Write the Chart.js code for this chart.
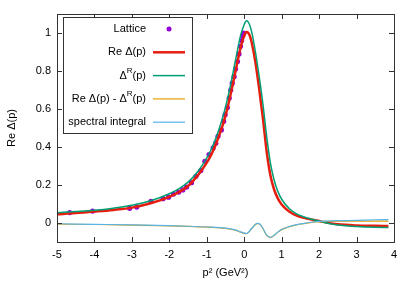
<!DOCTYPE html>
<html lang="en">
<head>
  <meta charset="UTF-8">
  <title>Re Delta(p)</title>
  <script src="https://cdn.jsdelivr.net/npm/chart.js@4.4.1/dist/chart.umd.min.js"></script>
  <style>
    html, body { margin: 0; padding: 0; background: #fff; }
    #wrap { width: 415px; height: 291px; }
  </style>
</head>
<body>
<div id="wrap"><canvas id="grafico" width="415" height="291"></canvas></div>

<script>
  // lattice data
  const latticeX = [-4.66, -4.05, -3.06, -2.87, -2.49, -2.17, -2.02, -1.89, -1.75, -1.64, -1.54, -1.41,
                    -1.29, -1.16, -1.05, -0.94, -0.83, -0.76, -0.70, -0.61, -0.55, -0.51, -0.45, -0.40,
                    -0.36, -0.32, -0.27, -0.23, -0.18, -0.14, -0.10, -0.07, -0.04, -0.02];
  const latticeY = [0.055, 0.063, 0.077, 0.084, 0.114, 0.128, 0.136, 0.152, 0.163, 0.174, 0.189, 0.212,
                    0.246, 0.276, 0.325, 0.360, 0.395, 0.420, 0.456, 0.490, 0.535, 0.570, 0.608, 0.658,
                    0.700, 0.736, 0.770, 0.810, 0.850, 0.890, 0.930, 0.960, 0.985, 1.000];

  // Re Delta(p) and Delta^R(p)
  const curveX  = [-5, -4.5, -4, -3.5, -3, -2.5, -2, -1.75, -1.5, -1.25, -1, -0.9, -0.8, -0.7, -0.6, -0.5,
                   -0.4, -0.3, -0.2, -0.1, 0, 0.06, 0.1, 0.15, 0.2, 0.3, 0.4, 0.5, 0.6, 0.7, 0.8, 0.9, 1.0,
                   1.2, 1.4, 1.6, 1.8, 2.0, 2.2, 2.5, 3.0, 3.5, 3.85];
  const reDelta = [0.046, 0.052, 0.060, 0.069, 0.081, 0.104, 0.138, 0.162, 0.195, 0.248, 0.318, 0.352, 0.395,
                   0.445, 0.500, 0.565, 0.645, 0.735, 0.830, 0.920, 0.985, 1.005, 1.003, 0.985, 0.950, 0.845,
                   0.705, 0.550, 0.375, 0.250, 0.175, 0.128, 0.097, 0.060, 0.039, 0.027, 0.018, 0.010, 0.002,
                   -0.007, -0.013, -0.015, -0.016];
  const deltaR  = [0.054, 0.060, 0.067, 0.078, 0.093, 0.117, 0.154, 0.180, 0.215, 0.268, 0.343, 0.380, 0.425,
                   0.478, 0.540, 0.610, 0.695, 0.790, 0.890, 0.985, 1.045, 1.064, 1.060, 1.040, 1.005, 0.900,
                   0.770, 0.625, 0.455, 0.315, 0.225, 0.165, 0.125, 0.076, 0.048, 0.032, 0.020, 0.010, 0.000,
                   -0.011, -0.019, -0.023, -0.024];

  // Re Delta(p) - Delta^R(p) and spectral integral
  const diffX     = [-5, -4, -3, -2, -1.5, -1, -0.5, -0.3, -0.2, -0.1, 0, 0.05, 0.1, 0.2, 0.3, 0.35, 0.4, 0.5,
                     0.6, 0.7, 0.8, 0.9, 1.0, 1.2, 1.4, 1.6, 1.8, 2.0, 2.5, 3.0, 3.5, 3.85];
  const diffY     = [-0.006, -0.008, -0.011, -0.015, -0.018, -0.022, -0.028, -0.035, -0.040, -0.048, -0.054,
                     -0.056, -0.052, -0.030, -0.008, -0.003, -0.004, -0.030, -0.065, -0.077, -0.065, -0.048,
                     -0.035, -0.020, -0.010, -0.003, 0.003, 0.007, 0.010, 0.010, 0.010, 0.010];
  const spectralY = [-0.004, -0.007, -0.010, -0.014, -0.017, -0.021, -0.027, -0.034, -0.039, -0.047, -0.053,
                     -0.055, -0.051, -0.029, -0.007, -0.002, -0.003, -0.029, -0.064, -0.076, -0.064, -0.047,
                     -0.034, -0.019, -0.009, -0.002, 0.004, 0.009, 0.012, 0.014, 0.017, 0.018];

  const xTicks = [-5, -4, -3, -2, -1, 0, 1, 2, 3, 4];
  const yTicks = [0, 0.2, 0.4, 0.6, 0.8, 1];

  const pares = (xs, ys) => xs.map((x, i) => ({ x: x, y: ys[i] }));

  const corBorda = "#333";

  // legenda no estilo gnuplot (texto a direita, amostra depois)
  const linhasLegenda = [
    { partes: [["Lattice"]], tipo: "ponto", cor: "#9400d3" },
    { partes: [["Re \u0394(p)"]], tipo: "linha", cor: "#e51e10", largura: 2.5 },
    { partes: [["\u0394"], ["R", true], ["(p)"]], tipo: "linha", cor: "#009e73", largura: 1.5 },
    { partes: [["Re \u0394(p) - \u0394"], ["R", true], ["(p)"]], tipo: "linha", cor: "#e69f00", largura: 1.2 },
    { partes: [["spectral integral"]], tipo: "linha", cor: "#56b4e9", largura: 1.2 }
  ];

  const molduraPlugin = {
    id: "moldura",
    afterDraw(chart) {
      const { ctx, chartArea: a, scales } = chart;
      ctx.save();
      ctx.strokeStyle = corBorda;
      ctx.lineWidth = 1;
      ctx.beginPath();
      xTicks.forEach(v => {
        const px = Math.round(scales.x.getPixelForValue(v)) + 0.5;
        ctx.moveTo(px, a.bottom); ctx.lineTo(px, a.bottom - 5);
        ctx.moveTo(px, a.top); ctx.lineTo(px, a.top + 5);
      });
      yTicks.forEach(v => {
        const py = Math.round(scales.y.getPixelForValue(v)) + 0.5;
        ctx.moveTo(a.left, py); ctx.lineTo(a.left + 5, py);
        ctx.moveTo(a.right, py); ctx.lineTo(a.right - 5, py);
      });
      ctx.stroke();
      ctx.strokeRect(Math.round(a.left) + 0.5, Math.round(a.top) + 0.5,
                     Math.round(a.right - a.left), Math.round(a.bottom - a.top));

      // caixa da legenda
      ctx.fillStyle = "#fff";
      ctx.fillRect(63.5, 17.5, 129, 116);
      ctx.strokeStyle = corBorda;
      ctx.strokeRect(63.5, 17.5, 129, 116);

      const fonte = "11px 'Liberation Sans', Arial, sans-serif";
      const fonteSup = "8px 'Liberation Sans', Arial, sans-serif";
      ctx.textBaseline = "middle";
      ctx.textAlign = "left";
      linhasLegenda.forEach((l, i) => {
        const y = 29 + i * 23.3;
        let total = 0;
        l.partes.forEach(p => { ctx.font = p[1] ? fonteSup : fonte; total += ctx.measureText(p[0]).width; });
        let x = 146 - total;
        ctx.fillStyle = "#000";
        l.partes.forEach(p => {
          ctx.font = p[1] ? fonteSup : fonte;
          ctx.fillText(p[0], x, p[1] ? y - 5 : y);
          x += ctx.measureText(p[0]).width;
        });
        if (l.tipo === "ponto") {
          ctx.fillStyle = l.cor;
          ctx.beginPath();
          ctx.arc(169, y, 2.5, 0, Math.PI * 2);
          ctx.fill();
        } else {
          ctx.strokeStyle = l.cor;
          ctx.lineWidth = l.largura;
          ctx.beginPath();
          ctx.moveTo(153, y); ctx.lineTo(185, y);
          ctx.stroke();
        }
      });
      ctx.restore();
    }
  };

  Chart.defaults.font.family = "'Liberation Sans', Arial, sans-serif";
  Chart.defaults.font.size = 11;
  Chart.defaults.color = "#000";

  const linha = (label, dados, cor, largura, ordem) => ({
    label: label,
    data: dados,
    showLine: true,
    borderColor: cor,
    borderWidth: largura,
    pointRadius: 0,
    cubicInterpolationMode: "monotone",
    order: ordem
  });

  new Chart(document.getElementById("grafico").getContext("2d"), {
    type: "scatter",
    data: {
      datasets: [
        { label: "Lattice", data: pares(latticeX, latticeY), backgroundColor: "#9400d3",
          borderWidth: 0, pointRadius: 2.6, order: 5 },
        linha("Re \u0394(p)", pares(curveX, reDelta), "#e51e10", 2.5, 4),
        linha("\u0394R(p)", pares(curveX, deltaR), "#009e73", 1.5, 3),
        linha("Re \u0394(p) - \u0394R(p)", pares(diffX, diffY), "#e69f00", 1.2, 2),
        linha("spectral integral", pares(diffX, spectralY), "#56b4e9", 1.2, 1)
      ]
    },
    options: {
      responsive: false,
      animation: false,
      layout: { padding: { top: 14, right: 21, left: 0, bottom: 0 } },
      plugins: { legend: { display: false }, tooltip: { enabled: false } },
      scales: {
        x: {
          type: "linear", min: -5, max: 4,
          grid: { display: false, drawTicks: false }, border: { display: false },
          afterBuildTicks: s => { s.ticks = xTicks.map(v => ({ value: v })); },
          afterFit: s => { s.height = 49; },
          ticks: { padding: 6, callback: v => String(v) },
          title: { display: true, text: "p\u00b2 (GeV\u00b2)", padding: { top: 4, bottom: 11 } }
        },
        y: {
          type: "linear", min: -0.1, max: 1.1,
          grid: { display: false, drawTicks: false }, border: { display: false },
          afterBuildTicks: s => { s.ticks = yTicks.map(v => ({ value: v })); },
          afterFit: s => { s.width = 57; },
          ticks: { padding: 6, callback: v => String(+v.toFixed(1)) },
          title: { display: true, text: "Re \u0394(p)", padding: { top: 5, bottom: 6 } }
        }
      }
    },
    plugins: [molduraPlugin]
  });
</script>
</body>
</html>
